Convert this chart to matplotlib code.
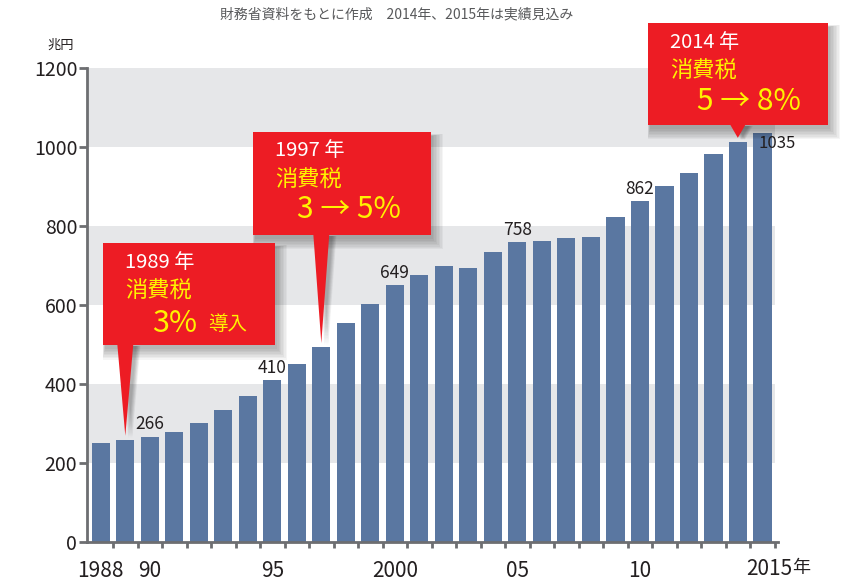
import numpy as np
import matplotlib
matplotlib.use("Agg")
import matplotlib.pyplot as plt
from matplotlib.patches import Rectangle, Polygon

plt.rcParams['font.family'] = ['Liberation Sans Narrow', 'Noto Sans CJK JP', 'DejaVu Sans']

# data (兆円)
years = list(range(1988, 2016))
debt = [250, 258, 266, 278, 301, 333, 369, 410, 450, 493, 553, 602, 649, 675,
        698, 693, 734, 758, 761, 769, 772, 822, 862, 901, 934, 982, 1013, 1035]
label_years = [1990, 1995, 2000, 2005, 2010]
tick_years = [1988, 1990, 1995, 2000, 2005, 2010, 2015]
tick_text = ['1988', '90', '95', '2000', '05', '10', '2015']
yticks = [0, 200, 400, 600, 800, 1000, 1200]
bands = [(200, 400), (600, 800), (1000, 1200)]

note = '財務省資料をもとに作成　2014年、2015年は実績見込み'
callout_years = [1989, 1997, 2014]
callout_titles = ['1989 年', '1997 年', '2014 年']
callout_rates = ['3%', '3 → 5%', '5 → 8%']
callout_extra = ['導入', None, None]

# box layout in pixels: left, top, right, bottom, x offset of the rate text
boxes = [(103, 243, 275, 345, 49), (253, 132, 431, 235, 44), (648, 23, 828, 125, 49)]

W, H = 845, 582
bar_c = '#5a77a1'
axis_c = '#6d6e71'
red = '#ed1c24'
yellow = '#fff200'

fig = plt.figure(figsize=(W / 100, H / 100), dpi=100)
ax = fig.add_axes([87 / W, (H - 541.5) / H, (778 - 87) / W, (541.5 - 68) / H])

x0, x1 = years[0] - 0.563, years[0] + 27.64
ax.set_xlim(x0, x1)
ax.set_ylim(0, 1200)

for lo, hi in bands:
    ax.fill_between([x0, years[-1] + 0.52], lo, hi, color='#e6e7e9', lw=0, zorder=0)

ax.bar(years, debt, width=0.75, color=bar_c, zorder=2)

for y in label_years:
    v = debt[years.index(y)]
    ax.text(y, v + 8, str(v), ha='center', va='bottom', fontsize=12.5, color='#231f20')
ax.text(years[-1] - 0.15, debt[-1] - 6, str(debt[-1]), ha='left', va='top',
        fontsize=12, color='#231f20', zorder=3)

for s in ['top', 'right']:
    ax.spines[s].set_visible(False)
for s in ['left', 'bottom']:
    ax.spines[s].set_color(axis_c)
    ax.spines[s].set_linewidth(2)

ax.set_yticks(yticks)
ax.set_yticklabels([str(t) for t in yticks], fontsize=14, color='#231f20')
ax.tick_params(axis='y', length=6, width=2, color=axis_c, pad=1)

ax.set_xticks([y + 0.5 for y in years])
ax.set_xticklabels([])
ax.tick_params(axis='x', which='major', length=4, width=2, color=axis_c)
ax.set_xticks(tick_years[:-1], minor=True)
ax.set_xticklabels(tick_text[:-1], minor=True, fontsize=15, color='#231f20')
ax.tick_params(axis='x', which='minor', length=0, pad=13)
# last label "2015年" sits a bit to the right of its bar
ax.annotate(tick_text[-1], xy=(tick_years[-1], 0), xycoords=('data', 'axes fraction'),
            xytext=(-11.5, -19.5), textcoords='offset points', ha='left', va='center',
            fontsize=15, color='#231f20')

# overlay in pixel coordinates
ov = fig.add_axes([0, 0, 1, 1], zorder=5)
ov.set_xlim(0, W)
ov.set_ylim(H, 0)
ov.axis('off')

cjk = ['Noto Sans CJK JP']
ov.text(792, 568, '年', ha='left', va='center', fontsize=13, color='#231f20', family=cjk)
ov.text(397, 14, note, ha='center', va='center', fontsize=10, color='#58595b', family=cjk)
ov.text(47, 45, '兆円', ha='left', va='center', fontsize=9.5, color='#231f20', family=cjk)

for i, year in enumerate(callout_years):
    l, t, r, b, dx = boxes[i]
    v = debt[years.index(year)]
    tx, ty = ov.transData.inverted().transform(ax.transData.transform((year, v + 10)))
    base = [(tx - 8, b - 1), (tx + 8, b - 1), (tx, ty)]
    # soft shadow
    for k in range(8):
        a = 0.04
        ov.add_patch(Rectangle((l + 2 - k * 0.3, t + 4 - k * 0.3), r - l + k * 1.8, b - t + k * 1.8,
                               color='#000000', alpha=a, lw=0, zorder=1))
        ov.add_patch(Polygon([(px + 3 + k * 0.6, py + 2) for px, py in base],
                             closed=True, color='#000000', alpha=a, lw=0, zorder=1))
    ov.add_patch(Rectangle((l, t), r - l, b - t, color=red, lw=0, zorder=2))
    ov.add_patch(Polygon(base, closed=True, color=red, lw=0, zorder=2))
    ov.text(l + 22, t + 19, callout_titles[i], ha='left', va='center', fontsize=14.5,
            color='white', family=cjk, zorder=3)
    ov.text(l + 22, t + 48, '消費税', ha='left', va='center', fontsize=16, color=yellow,
            family=cjk, zorder=3)
    if callout_extra[i]:
        ov.text(l + dx, t + 80, callout_rates[i], ha='left', va='center', fontsize=22,
                color=yellow, family=cjk, zorder=3)
        ov.text(l + 105, t + 82, callout_extra[i], ha='left', va='center', fontsize=14,
                color=yellow, family=cjk, zorder=3)
    else:
        ov.text(l + dx, t + 78, callout_rates[i], ha='left', va='center', fontsize=21.5,
                color=yellow, family=cjk, zorder=3)

fig.savefig('out.png', dpi=100)
